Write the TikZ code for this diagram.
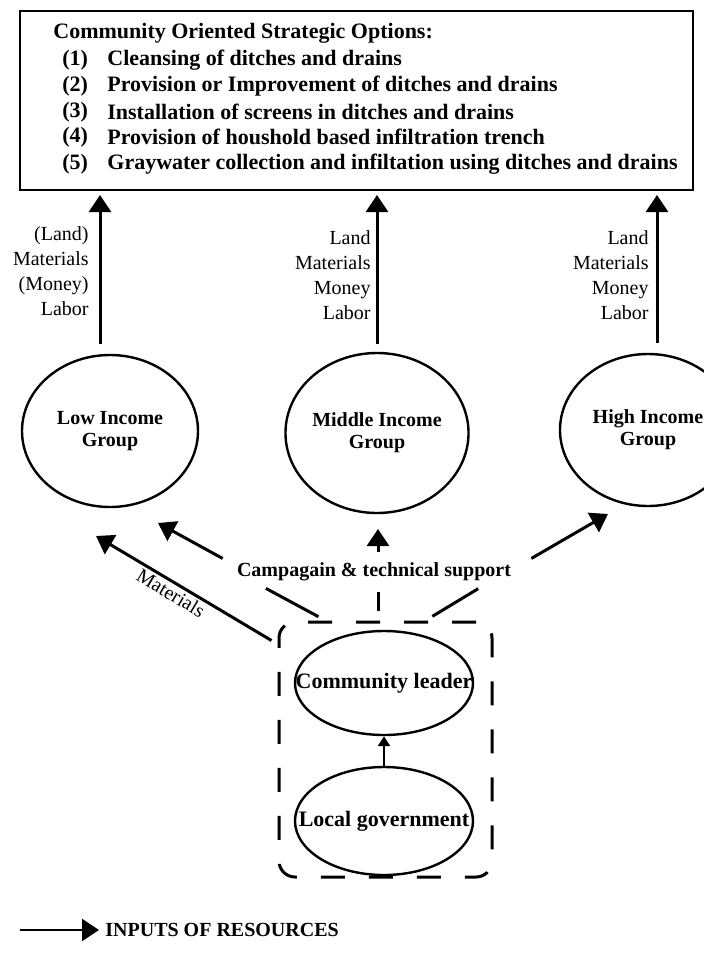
\documentclass[tikz,border=0pt]{standalone}
\usepackage{fontspec}
\setmainfont{Liberation Serif}
\usetikzlibrary{arrows.meta,shapes.geometric}

\begin{document}
\begin{tikzpicture}
        [x=0.5pt,y=-0.5pt,
         every node/.style={inner sep=0pt},
         boldtext/.style={font=\fontsize{11}{13}\selectfont\bfseries},
         grouptext/.style={font=\fontsize{10}{11}\selectfont\bfseries},
         plaintext/.style={font=\fontsize{10}{12.4}\selectfont},
         group/.style={draw,ellipse,line width=1.2pt,minimum width=88pt,minimum height=76pt,align=center,grouptext},
         actor/.style={draw,ellipse,line width=1.2pt,minimum width=89pt,minimum height=52pt},
         inarrow/.style={line width=1.5pt,-{Triangle[width=11pt,length=8.5pt]}},
         smallarrow/.style={line width=1.3pt,-{Triangle[width=6pt,length=5pt]}},
         dashlink/.style={line width=1.5pt}]

        \path[use as bounding box,fill=white] (0,0) rectangle (704,970);

        \node[draw,line width=1pt,minimum width=336.5pt,minimum height=89.5pt] (options) at (356.5,100.5) {};
        \node[boldtext,anchor=west] (opthead) at (53,33) {Community Oriented Strategic Options:};
        \foreach \idx/\ypos/\optline in {1/60/Cleansing of ditches and drains,
                2/86/Provision or Improvement of ditches and drains,
                3/112/Installation of screens in ditches and drains,
                4/137/Provision of houshold based infiltration trench,
                5/164/Graywater collection and infiltation using ditches and drains}
            {
            \node[boldtext,anchor=west] (num\idx) at (62,\ypos) {(\idx)};
            \node[boldtext,anchor=west] (opt\idx) at (107,\ypos) {\optline};
            }

        \node[group] (low) at (110,431) {Low Income\\Group};
        \node[group,minimum height=80pt] (mid) at (377,433) {Middle Income\\Group};
        \node[group] (high) at (648,430) {High Income\\Group};

        \node[plaintext,align=right,anchor=east] (lowin) at (89,271) {(Land)\\Materials\\(Money)\\Labor};
        \node[plaintext,align=right,anchor=east] (midin) at (371,275) {Land\\Materials\\Money\\Labor};
        \node[plaintext,align=right,anchor=east] (highin) at (649,275) {Land\\Materials\\Money\\Labor};

        \draw[inarrow,shorten <=5pt,shorten >=2pt] ([xshift=-5pt]low.north) -- ([xshift=-5pt]low.north |- options.south);
        \draw[inarrow,shorten <=4pt,shorten >=2pt] (mid.north) -- (mid.north |- options.south);
        \draw[inarrow,shorten <=5pt,shorten >=2pt] ([xshift=4.5pt]high.north) -- ([xshift=4.5pt]high.north |- options.south);

        \node[grouptext,inner sep=2pt] (support) at (374,572) {Campagain \& technical support};

        \coordinate (lowtip) at (158,523);
        \coordinate (midtip) at (378,529);
        \coordinate (hightip) at (608,514);
        \coordinate (mattip) at (96,536);
        \coordinate (legstart) at (20,930);

        \draw[inarrow] ([xshift=-5pt]support.north west) -- (lowtip);
        \draw[inarrow,shorten <=3pt] (support.north -| midtip) -- (midtip);
        \draw[inarrow] ([xshift=8pt]support.north east) -- (hightip);

        \node[draw,line width=1.5pt,dash pattern=on 12pt off 12pt,rounded corners=8pt,
              minimum width=106.5pt,minimum height=127.5pt] (govbox) at (385.5,749.5) {};
        \node[actor,label={[boldtext]center:Community leader}] (leader) at (384,683) {};
        \node[actor,minimum height=54pt,label={[boldtext]center:Local government}] (localgov) at (384,821) {};
        \draw[smallarrow] (localgov) -- (leader);

        \draw[dashlink,shorten <=3pt,shorten >=4pt] ([xshift=14pt]support.south west) -- ([xshift=24pt]govbox.north west);
        \draw[dashlink,shorten <=3pt,shorten >=5pt] (support.south -| midtip) -- (midtip |- govbox.north);
        \draw[dashlink,shorten <=3pt,shorten >=4pt] ([xshift=-16pt]support.south east) -- ([xshift=-34pt]govbox.north east);

        \draw[inarrow] ([shift={(-3pt,-10pt)}]govbox.north west) -- (mattip);
        \node[plaintext,rotate=-31] (matlabel) at (171,593) {Materials};

        \node[grouptext,anchor=west] (legend) at (105,930) {INPUTS OF RESOURCES};
        \draw[inarrow,line width=1.1pt,shorten >=3pt] (legstart) -- (legend);
    \end{tikzpicture}
\end{document}
